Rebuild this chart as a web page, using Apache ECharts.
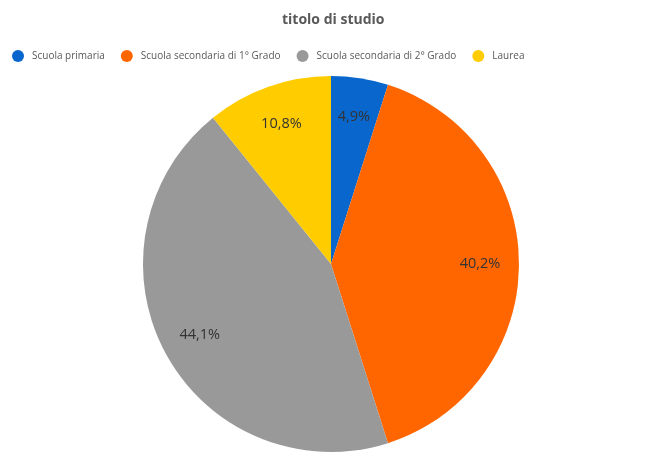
<!DOCTYPE html>
<html><head><meta charset="utf-8">
<script src="https://cdn.jsdelivr.net/npm/echarts@6/dist/echarts.min.js"></script>
<style>html,body{margin:0;padding:0;background:#fff}#c{width:650px;height:455px}</style>
</head><body><div id="c"></div>
<script>
const categories = ['Scuola primaria', 'Scuola secondaria di 1° Grado', 'Scuola secondaria di 2° Grado', 'Laurea'];
const values = [4.9, 40.2, 44.1, 10.8];
const colors = ['#0866CC', '#FF6600', '#999999', '#FFCC00'];

const data = categories.map((c, i) => ({ name: c, value: values[i], itemStyle: { color: colors[i] } }));
const fontFamily = '"Open Sans", "Noto Sans", sans-serif';
const chart = echarts.init(document.getElementById('c'), null, { renderer: 'canvas' });
chart.setOption({
  animation: false,
  title: { text: 'titolo di studio', left: 277, top: 8,
    textStyle: { fontFamily, fontSize: 14, fontWeight: 'bold', color: '#595959' } },
  legend: {
    top: 45, left: 7, itemGap: 16, icon: 'circle', itemWidth: 12, itemHeight: 12,
    textStyle: { fontFamily, fontSize: 10, color: '#595959', padding: [0, 0, 0, 3] },
    data: categories
  },
  series: [
    {
      type: 'pie', center: [331, 264], radius: [0, 188], startAngle: 90, clockwise: true,
      label: { show: false }, labelLine: { show: false }, silent: true,
      itemStyle: { borderWidth: 0 },
      data: data
    },
    {
      type: 'pie', center: [331, 264], radius: [0, 292], startAngle: 90, clockwise: true,
      silent: true, legendHoverLink: false,
      itemStyle: { color: 'rgba(0,0,0,0)', borderWidth: 0 },
      label: { show: true, position: 'inside', fontFamily, fontSize: 14.5, color: '#333333',
        formatter: p => p.value.toFixed(1).replace('.', ',') + '%' },
      labelLine: { show: false },
      data: categories.map((c, i) => ({ name: c + ' ', value: values[i] }))
    }
  ]
});
</script></body></html>
